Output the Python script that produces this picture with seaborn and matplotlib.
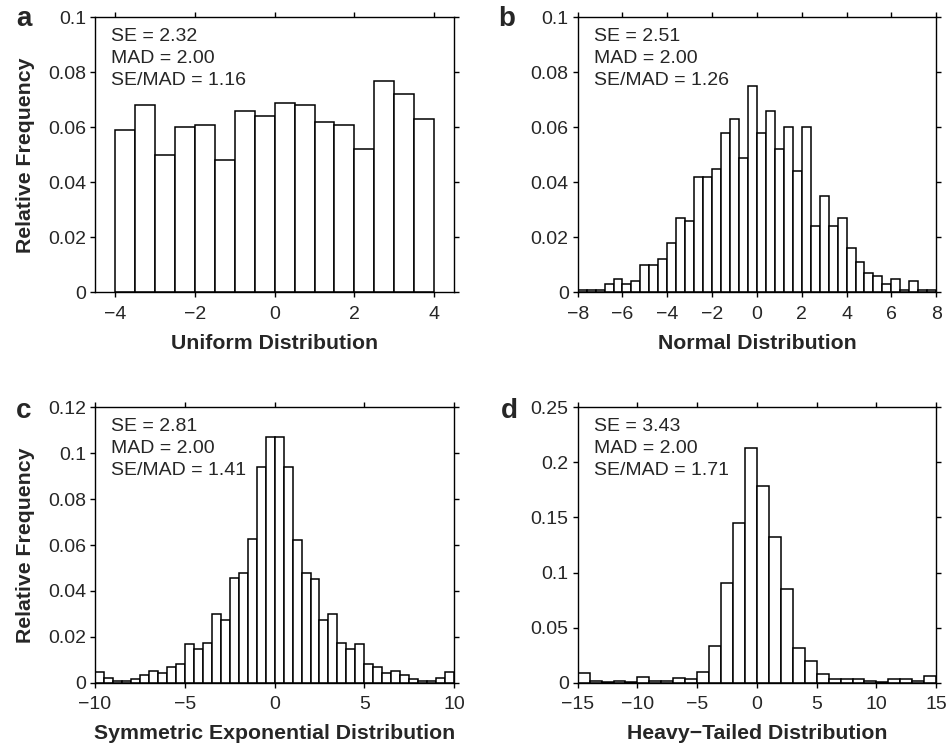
import numpy as np
import pandas as pd
import matplotlib
matplotlib.use("Agg")
import matplotlib.pyplot as plt
import seaborn as sns
from matplotlib.ticker import FuncFormatter

# ---------------- data (relative frequencies) ----------------
# a: Uniform, bins of width 0.5 from -4 to 4
uniform_freq = [0.059, 0.068, 0.050, 0.060, 0.061, 0.048, 0.066, 0.064,
                0.069, 0.068, 0.062, 0.061, 0.052, 0.077, 0.072, 0.063]
uniform_range = (-4, 4)

# b: Normal, bins of width 0.4 from -8 to 8
normal_freq = [0.001, 0.001, 0.001, 0.003, 0.005, 0.003, 0.004, 0.010,
               0.010, 0.012, 0.018, 0.027, 0.026, 0.042, 0.042, 0.045,
               0.058, 0.063, 0.049, 0.075, 0.058, 0.066, 0.052, 0.060,
               0.044, 0.060, 0.024, 0.035, 0.024, 0.027, 0.016, 0.011,
               0.007, 0.006, 0.003, 0.005, 0.001, 0.004, 0.001, 0.001]
normal_range = (-8, 8)

# c: Symmetric exponential, bins of width 0.5 from -10 to 10
symexp_freq = [0.0045, 0.0022, 0.0009, 0.0009, 0.0016, 0.0032, 0.0051, 0.0041,
               0.0067, 0.0080, 0.0170, 0.0145, 0.0175, 0.0300, 0.0275, 0.0455,
               0.0476, 0.0625, 0.0940, 0.1070, 0.1070, 0.0940, 0.0624, 0.0476,
               0.0454, 0.0275, 0.0300, 0.0175, 0.0145, 0.0170, 0.0080, 0.0067,
               0.0041, 0.0051, 0.0032, 0.0016, 0.0009, 0.0009, 0.0022, 0.0045]
symexp_range = (-10, 10)

# d: Heavy-tailed, bins of width 1 from -15 to 15
heavy_freq = [0.0091, 0.0012, 0.0003, 0.0018, 0.0006, 0.0048, 0.0018, 0.0012,
              0.0039, 0.0030, 0.0100, 0.0330, 0.0908, 0.1453, 0.2128, 0.1790,
              0.1326, 0.0853, 0.0312, 0.0200, 0.0082, 0.0030, 0.0036, 0.0030,
              0.0018, 0.0009, 0.0036, 0.0030, 0.0012, 0.0058]
heavy_range = (-15, 15)

panel_letters = ["a", "b", "c", "d"]
x_labels = ["Uniform Distribution", "Normal Distribution",
            "Symmetric Exponential Distribution", "Heavy\u2212Tailed Distribution"]
stats_text = [("2.32", "2.00", "1.16"), ("2.51", "2.00", "1.26"),
              ("2.81", "2.00", "1.41"), ("3.43", "2.00", "1.71")]
x_ticks = [[-4, -2, 0, 2, 4], list(range(-8, 9, 2)),
           [-10, -5, 0, 5, 10], list(range(-15, 16, 5))]
y_ticks = [[0, 0.02, 0.04, 0.06, 0.08, 0.1], [0, 0.02, 0.04, 0.06, 0.08, 0.1],
           [0, 0.02, 0.04, 0.06, 0.08, 0.1, 0.12], [0, 0.05, 0.1, 0.15, 0.2, 0.25]]
x_limits = [(-4.5, 4.5), (-8, 8), (-10, 10), (-15, 15)]
y_limits = [(0, 0.1), (0, 0.1), (0, 0.12), (0, 0.25)]

# ---------------- style ----------------
sns.set_style("ticks")
plt.rcParams["font.family"] = ["Liberation Sans", "DejaVu Sans"]
plt.rcParams["axes.linewidth"] = 1.0
plt.rcParams["xtick.direction"] = "out"
plt.rcParams["ytick.direction"] = "out"

fig = plt.figure(figsize=(9.49, 7.49), dpi=100)
positions = [[0.1001, 0.6097, 0.3785, 0.3672],
             [0.6087, 0.6097, 0.3778, 0.3672],
             [0.1001, 0.0885, 0.3785, 0.3677],
             [0.6087, 0.0885, 0.3778, 0.3677]]
letter_pos = [(24, 19), (507, 19), (24, 411), (509, 411)]

datasets = [(uniform_freq, uniform_range), (normal_freq, normal_range),
            (symexp_freq, symexp_range), (heavy_freq, heavy_range)]

fmt = FuncFormatter(lambda v, p: "{:g}".format(round(v, 4)))

for i, ((freq, (lo, hi)), pos) in enumerate(zip(datasets, positions)):
    ax = fig.add_axes(pos)
    edges = np.linspace(lo, hi, len(freq) + 1)
    centers = (edges[:-1] + edges[1:]) / 2
    df = pd.DataFrame({"value": centers, "freq": np.asarray(freq, float)})
    sns.histplot(data=df, x="value", weights="freq", bins=list(edges),
                 stat="count", color="white", edgecolor="black",
                 linewidth=1.1, alpha=1.0, ax=ax)
    ax.set_xlim(*x_limits[i])
    ax.set_ylim(*y_limits[i])
    ax.set_xticks(x_ticks[i])
    ax.set_yticks(y_ticks[i])
    ax.yaxis.set_major_formatter(fmt)
    ax.tick_params(axis="both", which="major", labelsize=14, length=3.5,
                   width=1.0, color="black", top=True, right=True)
    ax.tick_params(axis="x", pad=6)
    ax.tick_params(axis="y", pad=3)
    for s in ax.spines.values():
        s.set_visible(True)
        s.set_color("black")
        s.set_linewidth(1.0)
    ax.set_xlabel(x_labels[i], fontsize=15.3, fontweight="bold", labelpad=8)
    if i in (0, 2):
        ax.set_ylabel("Relative Frequency", fontsize=15.3, fontweight="bold",
                      labelpad=9)
    else:
        ax.set_ylabel("")
    se, mad, ratio = stats_text[i]
    ax.text(16 / 949 / pos[2], 1 - 11 / 749 / pos[3],
            "SE = {}\nMAD = {}\nSE/MAD = {}".format(se, mad, ratio),
            transform=ax.transAxes, ha="left", va="top", fontsize=14,
            linespacing=1.38)
    lx, ly = letter_pos[i]
    fig.text(lx / 949, 1 - ly / 749, panel_letters[i], fontsize=20,
             fontweight="bold", ha="center", va="center")

fig.savefig("out.png", dpi=100, facecolor="white")
